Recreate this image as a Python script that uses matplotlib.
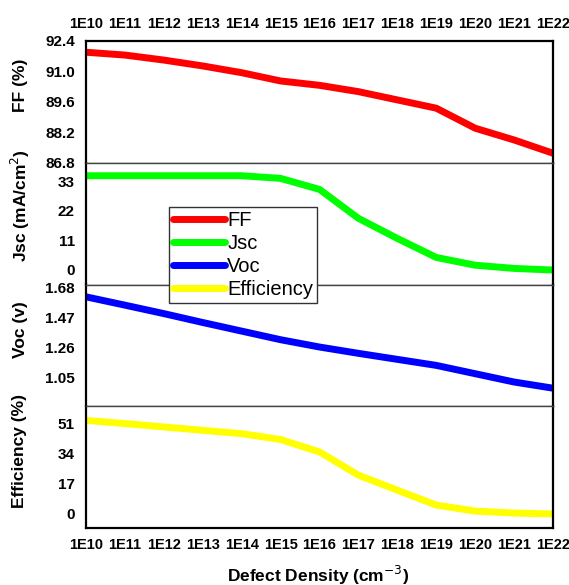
import numpy as np
import matplotlib
matplotlib.use("agg")
import matplotlib.pyplot as plt

plt.rcParams['font.family'] = ['Liberation Sans', 'DejaVu Sans']

# defect density exponents (1E10 .. 1E22)
exps = list(range(10, 23))
xlabels = ["1E" + str(e) for e in exps]

ff = [91.87, 91.74, 91.51, 91.24, 90.93, 90.55, 90.35, 90.06, 89.68, 89.30, 88.38, 87.84, 87.23]
jsc = [35.0, 35.0, 35.0, 35.0, 35.0, 34.0, 29.9, 19.1, 11.6, 4.5, 1.6, 0.4, -0.2]
voc = [1.614, 1.556, 1.497, 1.435, 1.375, 1.315, 1.264, 1.220, 1.178, 1.136, 1.078, 1.020, 0.977]
eff = [52.5, 50.7, 48.8, 46.9, 45.0, 41.7, 34.7, 21.6, 13.1, 4.7, 1.3, 0.2, -0.3]

series = [ff, jsc, voc, eff]
names = ["FF", "Jsc", "Voc", "Efficiency"]
colors = ["#ff0000", "#00ff00", "#0000ff", "#ffff00"]
ylabels = ["FF (%)", "Jsc (mA/cm$^2$)", "Voc (v)", "Efficiency (%)"]
yticks = [[86.8, 88.2, 89.6, 91.0, 92.4], [0, 11, 22, 33], [1.05, 1.26, 1.47, 1.68], [0, 17, 34, 51]]
ytlabels = [["86.8", "88.2", "89.6", "91.0", "92.4"], ["0", "11", "22", "33"],
            ["1.05", "1.26", "1.47", "1.68"], ["0", "17", "34", "51"]]
ylims = [(86.8, 92.4), (-5.6, 39.9), (0.85, 1.70), (-8.4, 60.4)]
label_y = [85, 206, 330, 451]  # pixel centres of the side labels

W, H = 569, 585
fig = plt.figure(figsize=(W / 100, H / 100), dpi=100)
left, right = 86 / W, 553 / W
top, bottom = 1 - 40.7 / H, 1 - 528.3 / H
ph = (top - bottom) / 4

handles = []
for i in range(4):
	ax = fig.add_axes([left, top - (i + 1) * ph, right - left, ph])
	ln, = ax.plot(exps, series[i], color=colors[i], lw=5, solid_capstyle='round', label=names[i])
	handles.append(ln)
	ax.set_xlim(10, 22)
	ax.set_ylim(*ylims[i])
	ax.set_yticks(yticks[i])
	ax.set_yticklabels(ytlabels[i], fontsize=11, fontweight='bold')
	ax.tick_params(length=0, pad=8)
	ax.set_xticks(exps)
	if i == 0:
		ax.xaxis.tick_top()
		ax.set_xticklabels(xlabels, fontsize=10.5, fontweight='bold')
		ax.tick_params(axis='x', pad=7)
	elif i == 3:
		ax.set_xticklabels(xlabels, fontsize=10.5, fontweight='bold')
		ax.tick_params(axis='x', pad=7)
	else:
		ax.set_xticklabels([])
	for s in ['left', 'right']:
		ax.spines[s].set_linewidth(1.6)
	ax.spines['top'].set_linewidth(1.0 if i > 0 else 1.6)
	ax.spines['bottom'].set_linewidth(1.0 if i < 3 else 1.6)
	if i > 0:
		ax.spines['top'].set_color('#444444')
	if i < 3:
		ax.spines['bottom'].set_color('#444444')
	fig.text(20 / W, 1 - label_y[i] / H, ylabels[i], rotation=90, ha='center', va='center',
		fontsize=12.5, fontweight='bold')

fig.text(318 / W, 1 - 575 / H, "Defect Density (cm$^{-3}$)", ha='center', va='center',
	fontsize=12.5, fontweight='bold')

leg = fig.legend(handles=handles, loc='upper left', bbox_to_anchor=(169 / W, 1 - 207 / H),
	fontsize=14.5, frameon=True, fancybox=False, edgecolor='#333333', framealpha=1,
	handlelength=2.6, handletextpad=0.1, labelspacing=0.2, borderpad=0.2, borderaxespad=0)
leg.get_frame().set_linewidth(1.0)
for lh in leg.get_lines():
	lh.set_linewidth(5)

plt.savefig("out.png", dpi=100)
